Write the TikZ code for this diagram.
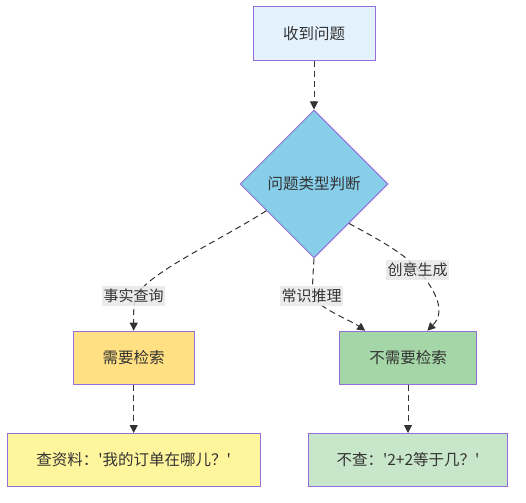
\documentclass[tikz,border=0pt]{standalone}
\usepackage{fontspec}
\newfontfamily\cjkf{Noto Sans CJK SC}
\usetikzlibrary{shapes.geometric,arrows.meta,calc}
\definecolor{txt}{HTML}{333333}
\definecolor{bord}{HTML}{9370DB}
\definecolor{cTop}{HTML}{E3F2FD}
\definecolor{cDia}{HTML}{87CEEB}
\definecolor{cYel}{HTML}{FFE082}
\definecolor{cGrn}{HTML}{A5D6A7}
\definecolor{cYel2}{HTML}{FFF59D}
\definecolor{cGrn2}{HTML}{C8E6C9}
\definecolor{lblbg}{HTML}{E8E8E8}
\definecolor{edgec}{HTML}{333333}
\tikzset{
  box/.style={draw=bord, line width=1pt, text=txt, font=\cjkf\fontsize{15.5}{18}\selectfont, inner sep=0pt, anchor=center},
  lbl/.style={fill=lblbg, fill opacity=0.85, text opacity=1, text=txt, font=\cjkf\fontsize{15}{17}\selectfont, inner sep=1.5pt, minimum width=62pt, minimum height=20pt},
  conn/.style={draw=edgec, line width=1pt, dash pattern=on 6pt off 4pt, -{Triangle[length=8pt,width=8pt]}}
}
\begin{document}
\begin{tikzpicture}[x=1pt,y=-1pt]
\useasboundingbox (0,0) rectangle (526,502);
% nodes
\node[box, fill=cTop, minimum width=122pt, minimum height=54pt] (q) at (314,34) {收到问题};
\node[box, draw=bord, fill=cDia, shape=diamond, minimum width=148pt, minimum height=148pt, aspect=1] (d) at (314,184) {问题类型判断};
\node[box, fill=cYel, minimum width=121pt, minimum height=53pt] (r) at (133.7,357.7) {需要检索};
\node[box, fill=cGrn, minimum width=137pt, minimum height=53pt] (n) at (408,357.7) {不需要检索};
\node[box, fill=cYel2, minimum width=253pt, minimum height=53pt] (ra) at (133.7,460) {查资料：'我的订单在哪儿？'};
\node[box, fill=cGrn2, minimum width=199pt, minimum height=53pt] (na) at (408,460) {不查：'2+2等于几？'};
% connectors
\draw[conn] (q.south) -- (d.north);
\coordinate (d1) at ($(d.west)!0.36!(d.south)$);
\coordinate (d3) at ($(d.east)!0.53!(d.south)$);
\coordinate (r1) at (r.north);
\coordinate (n1) at ($(n.north west)!0.19!(n.north east)$);
\coordinate (n2) at ($(n.north west)!0.64!(n.north east)$);
\draw[conn] (d1) .. controls (215,243) and (150,272) .. (136,296) .. controls (133,306) and (133.7,318) .. (r1);
\draw[conn] (d.south) .. controls (313,275) and (312,288) .. (313,296) .. controls (318,308) and (350,320) .. (n1);
\draw[conn] (d3) .. controls (380,240) and (408,256) .. (418,270) .. controls (432,286) and (448,310) .. (n2);
\draw[conn] (r.south) -- (ra.north);
\draw[conn] (n.south) -- (na.north);
% edge labels
\node[lbl] (l1) at (133.7,296) {事实查询};
\node[lbl] (l2) at (311.7,296) {常识推理};
\node[lbl] (l3) at (417.7,270) {创意生成};
\end{tikzpicture}
\end{document}
